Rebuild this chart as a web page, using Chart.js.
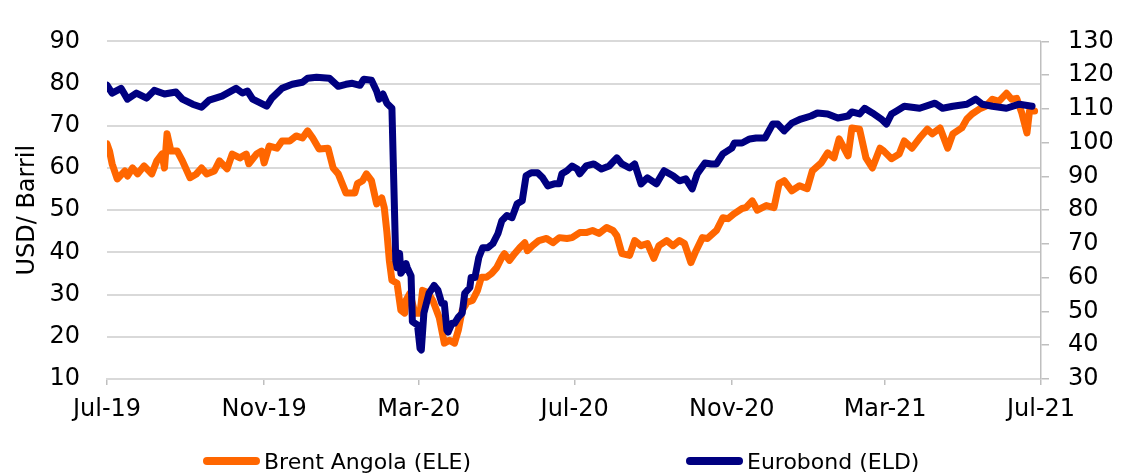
<!DOCTYPE html>
<html>
<head>
<meta charset="utf-8">
<script src="https://cdn.jsdelivr.net/npm/chart.js@4.4.1/dist/chart.umd.min.js"></script>
<style>
  html, body { margin: 0; padding: 0; background: #ffffff; }
  #wrap { position: relative; width: 1143px; height: 475px; overflow: hidden; }
  #legend { position: absolute; left: 0; top: 448px; width: 1143px; height: 28px; font-family: "DejaVu Sans", Verdana, sans-serif; font-size: 22px; color: #000; }
  .item { position: absolute; top: 0; height: 28px; line-height: 28px; white-space: nowrap; }
  .mark { display: inline-block; width: 57px; height: 8px; border-radius: 4px; vertical-align: middle; margin-right: 4px; position: relative; top: -2px; }
</style>
</head>
<body>
<div id="wrap">
  <canvas id="c" width="1143" height="475"></canvas>
  <div id="legend">
    <div class="item" style="left:203px"><span class="mark" style="background:#FF6600"></span>Brent Angola (ELE)</div>
    <div class="item" style="left:686px"><span class="mark" style="background:#000080"></span>Eurobond (ELD)</div>
  </div>
</div>
<script>
const startDate = '2019-07-01';
const endDate = '2021-07-01';
const tickDates = ['2019-07-01','2019-11-01','2020-03-01','2020-07-01','2020-11-01','2021-03-01','2021-07-01'];
const tickLabels = ['Jul-19','Nov-19','Mar-20','Jul-20','Nov-20','Mar-21','Jul-21'];

const brentDates = ['2019-07-01','2019-07-03','2019-07-05','2019-07-09','2019-07-15','2019-07-17','2019-07-21','2019-07-25','2019-07-30','2019-08-05','2019-08-09','2019-08-13','2019-08-15','2019-08-17','2019-08-20','2019-08-25','2019-08-29','2019-09-04','2019-09-09','2019-09-13','2019-09-17','2019-09-23','2019-09-27','2019-10-03','2019-10-07','2019-10-13','2019-10-18','2019-10-20','2019-10-26','2019-10-30','2019-11-01','2019-11-05','2019-11-11','2019-11-15','2019-11-21','2019-11-26','2019-12-01','2019-12-05','2019-12-09','2019-12-14','2019-12-21','2019-12-25','2019-12-29','2020-01-04','2020-01-11','2020-01-13','2020-01-17','2020-01-20','2020-01-24','2020-01-28','2020-02-01','2020-02-03','2020-02-05','2020-02-07','2020-02-09','2020-02-13','2020-02-16','2020-02-19','2020-02-20','2020-02-23','2020-02-27','2020-03-02','2020-03-04','2020-03-08','2020-03-12','2020-03-17','2020-03-21','2020-03-25','2020-03-29','2020-04-01','2020-04-04','2020-04-08','2020-04-12','2020-04-16','2020-04-19','2020-04-23','2020-04-27','2020-05-01','2020-05-05','2020-05-07','2020-05-11','2020-05-15','2020-05-19','2020-05-23','2020-05-25','2020-05-29','2020-06-03','2020-06-09','2020-06-14','2020-06-19','2020-06-25','2020-06-29','2020-07-05','2020-07-10','2020-07-15','2020-07-20','2020-07-26','2020-07-31','2020-08-03','2020-08-07','2020-08-13','2020-08-17','2020-08-22','2020-08-27','2020-09-01','2020-09-05','2020-09-11','2020-09-16','2020-09-21','2020-09-25','2020-09-30','2020-10-04','2020-10-09','2020-10-13','2020-10-20','2020-10-25','2020-10-29','2020-11-03','2020-11-09','2020-11-12','2020-11-17','2020-11-21','2020-11-28','2020-12-04','2020-12-08','2020-12-12','2020-12-18','2020-12-24','2020-12-30','2021-01-03','2021-01-10','2021-01-15','2021-01-20','2021-01-24','2021-01-31','2021-02-03','2021-02-09','2021-02-14','2021-02-19','2021-02-25','2021-02-28','2021-03-06','2021-03-12','2021-03-16','2021-03-22','2021-03-28','2021-04-03','2021-04-07','2021-04-13','2021-04-19','2021-04-23','2021-04-30','2021-05-04','2021-05-08','2021-05-14','2021-05-19','2021-05-24','2021-05-29','2021-06-04','2021-06-08','2021-06-12','2021-06-16','2021-06-20','2021-06-22','2021-06-26'];
const brentValues = [65.7,64.0,61.0,57.4,59.3,58.1,60.0,58.6,60.5,58.6,61.7,63.3,60.0,68.1,64.0,64.0,61.7,57.7,58.6,60.0,58.6,59.3,61.7,59.8,63.3,62.4,63.3,61.0,63.3,64.0,61.2,65.2,64.7,66.4,66.4,67.6,67.1,68.8,67.1,64.5,64.7,60.0,58.6,54.1,54.1,56.3,57.0,58.6,57.0,51.5,52.9,50.6,45.0,38.0,33.4,32.7,26.3,25.6,28.6,30.3,25.6,25.6,31.0,30.5,28.6,24.6,18.5,19.2,18.5,21.6,26.3,28.2,28.6,31.0,34.1,34.1,35.0,36.4,38.8,39.7,38.1,39.7,41.1,42.3,40.4,41.6,42.8,43.3,42.3,43.5,43.3,43.5,44.7,44.7,45.2,44.5,45.9,45.2,44.0,39.7,39.3,42.8,41.6,42.1,38.6,41.6,42.8,41.6,42.8,42.1,37.6,40.4,43.5,43.3,45.2,48.2,48.0,49.2,50.4,50.6,52.2,50.0,51.1,50.6,56.3,57.0,54.6,55.8,55.1,59.3,61.2,63.6,62.4,66.9,62.9,69.5,69.2,62.4,60.0,64.7,64.0,62.2,63.3,66.4,64.7,67.1,69.2,68.1,69.5,64.7,68.1,69.5,71.6,72.8,74.0,74.7,76.3,75.8,77.7,76.3,76.5,73.0,68.3,73.5,73.5];

const eurobondDates = ['2019-07-01','2019-07-05','2019-07-12','2019-07-17','2019-07-24','2019-08-01','2019-08-07','2019-08-15','2019-08-24','2019-08-29','2019-09-06','2019-09-13','2019-09-19','2019-09-29','2019-10-10','2019-10-15','2019-10-19','2019-10-23','2019-11-03','2019-11-07','2019-11-15','2019-11-23','2019-12-01','2019-12-05','2019-12-12','2019-12-22','2019-12-29','2020-01-04','2020-01-09','2020-01-15','2020-01-18','2020-01-24','2020-01-28','2020-01-30','2020-02-02','2020-02-05','2020-02-09','2020-02-10','2020-02-12','2020-02-13','2020-02-15','2020-02-16','2020-02-19','2020-02-20','2020-02-21','2020-02-24','2020-02-25','2020-02-29','2020-03-02','2020-03-03','2020-03-05','2020-03-09','2020-03-12','2020-03-13','2020-03-16','2020-03-19','2020-03-21','2020-03-23','2020-03-24','2020-03-27','2020-03-29','2020-04-01','2020-04-04','2020-04-06','2020-04-10','2020-04-11','2020-04-14','2020-04-17','2020-04-20','2020-04-24','2020-04-28','2020-05-02','2020-05-05','2020-05-09','2020-05-13','2020-05-17','2020-05-21','2020-05-24','2020-05-28','2020-06-02','2020-06-06','2020-06-10','2020-06-15','2020-06-19','2020-06-21','2020-06-25','2020-06-29','2020-07-03','2020-07-05','2020-07-10','2020-07-16','2020-07-22','2020-07-28','2020-08-03','2020-08-07','2020-08-13','2020-08-17','2020-08-22','2020-08-27','2020-09-03','2020-09-09','2020-09-16','2020-09-21','2020-09-26','2020-10-01','2020-10-05','2020-10-11','2020-10-16','2020-10-20','2020-10-25','2020-11-01','2020-11-03','2020-11-09','2020-11-15','2020-11-20','2020-11-27','2020-12-03','2020-12-07','2020-12-12','2020-12-18','2020-12-25','2021-01-02','2021-01-07','2021-01-15','2021-01-23','2021-01-31','2021-02-03','2021-02-09','2021-02-13','2021-02-19','2021-02-26','2021-03-02','2021-03-06','2021-03-10','2021-03-16','2021-03-28','2021-04-09','2021-04-15','2021-04-23','2021-05-04','2021-05-11','2021-05-16','2021-05-24','2021-06-04','2021-06-14','2021-06-24'];
const eurobondValues = [117.0,114.7,116.1,112.9,114.7,113.2,115.5,114.4,115.0,112.9,111.4,110.5,112.6,113.8,116.1,114.7,115.3,112.9,110.8,113.2,116.1,117.3,117.9,119.1,119.4,119.1,116.7,117.3,117.6,117.0,118.8,118.5,115.3,112.9,114.4,111.7,110.2,95.0,65.1,63.0,67.2,61.3,63.0,64.2,63.0,60.5,47.0,46.0,39.1,38.6,49.5,55.4,57.1,57.7,56.3,52.4,52.4,44.5,43.9,46.5,46.5,48.3,49.5,55.4,57.1,60.1,60.1,66.0,68.9,68.9,70.1,73.1,76.9,78.4,77.8,81.9,82.8,90.2,91.1,91.1,89.6,87.2,87.8,87.8,90.8,91.7,93.1,92.2,90.8,93.1,93.7,92.2,93.1,95.5,93.7,92.5,93.7,87.8,89.6,87.8,91.7,90.2,88.7,89.3,86.3,90.8,94.0,93.7,93.7,96.7,98.4,99.9,99.9,101.1,101.4,101.4,105.5,105.5,103.5,105.8,107.0,107.9,108.8,108.5,107.3,107.9,109.1,108.5,110.2,108.8,107.0,105.5,108.5,109.4,110.8,110.2,111.7,110.2,110.8,111.4,112.9,111.4,110.8,110.2,111.4,110.8];

const DAY = 86400000;
const t0 = Date.parse(startDate + 'T00:00:00Z');
const toDay = d => (Date.parse(d + 'T00:00:00Z') - t0) / DAY;
const tickDays = tickDates.map(toDay);

const brentPts = brentDates.map((d, i) => ({ x: toDay(d), y: brentValues[i] }));
const euroPts = eurobondDates.map((d, i) => ({ x: toDay(d), y: eurobondValues[i] }));

const FONT = '"DejaVu Sans", Verdana, sans-serif';
const GRID = '#d9d9d9';
const AXIS = '#bfbfbf';

new Chart(document.getElementById('c'), {
  type: 'line',
  data: {
    datasets: [
      { label: 'Brent Angola (ELE)', data: brentPts, yAxisID: 'y', borderColor: '#FF6600', backgroundColor: '#FF6600', borderWidth: 7, pointRadius: 0, tension: 0, borderJoinStyle: 'round', borderCapStyle: 'round', order: 2 },
      { label: 'Eurobond (ELD)', data: euroPts, yAxisID: 'y2', borderColor: '#000080', backgroundColor: '#000080', borderWidth: 7, pointRadius: 0, tension: 0, borderJoinStyle: 'round', borderCapStyle: 'round', order: 1 }
    ]
  },
  options: {
    responsive: false,
    animation: false,
    layout: { padding: { top: 40, left: 0, right: 0, bottom: 0 } },
    plugins: { legend: { display: false }, tooltip: { enabled: false } },
    scales: {
      x: {
        type: 'linear',
        min: toDay(startDate),
        max: toDay(endDate),
        afterFit: s => { s.height = 96; },
        afterBuildTicks: s => { s.ticks = tickDays.map(v => ({ value: v })); },
        ticks: {
          autoSkip: false, maxRotation: 0, minRotation: 0, padding: 10,
          font: { family: FONT, size: 24 }, color: '#000',
          callback: v => { const i = tickDays.indexOf(v); return i >= 0 ? tickLabels[i] : ''; }
        },
        grid: { drawOnChartArea: false, drawTicks: true, tickLength: 6, color: AXIS, lineWidth: 1.5 },
        border: { display: true, color: GRID, width: 2 }
      },
      y: {
        position: 'left',
        min: 10, max: 90,
        afterFit: s => { s.width = 107; },
        ticks: { stepSize: 10, padding: 27, font: { family: FONT, size: 24 }, color: '#000' },
        grid: { color: GRID, lineWidth: 2, drawTicks: false },
        border: { display: false },
        title: { display: true, text: 'USD/ Barril', font: { family: FONT, size: 24 }, color: '#000', padding: { top: 13, bottom: 0 } }
      },
      y2: {
        position: 'right',
        min: 30, max: 130,
        afterFit: s => { s.width = 102; },
        ticks: { stepSize: 10, padding: 19, font: { family: FONT, size: 24 }, color: '#000' },
        grid: { drawOnChartArea: false, drawTicks: true, tickLength: 8, color: AXIS, lineWidth: 1.5 },
        border: { display: true, color: AXIS, width: 1.5 }
      }
    }
  }
});
</script>
</body>
</html>
